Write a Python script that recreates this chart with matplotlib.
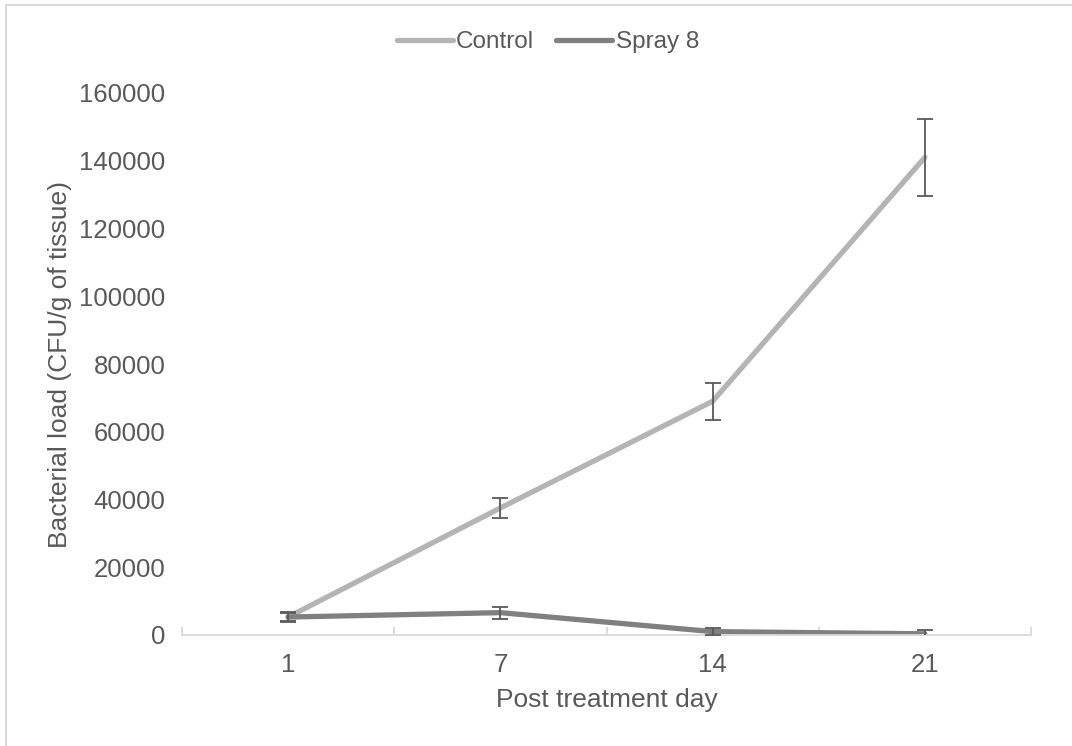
import matplotlib.pyplot as plt
import numpy as np
from matplotlib.lines import Line2D

plt.rcParams["font.family"] = ["Liberation Sans", "DejaVu Sans"]

days = ["1", "7", "14", "21"]
control = [5300, 37500, 69000, 141000]
control_err = [1500, 3000, 5500, 11300]
spray = [5300, 6600, 1000, 350]
spray_err = [1200, 1800, 1100, 1200]

TEXT = "#595959"
CONTROL_COLOR = "#B4B4B4"
SPRAY_COLOR = "#808080"
ERR_COLOR = "#595959"

fig = plt.figure(figsize=(10.72, 7.46), dpi=100)
ax = fig.add_axes([182 / 1072, 1 - 635 / 746, (1031 - 182) / 1072, (635 - 93) / 746])

# thin chart-area border (only top and left visible in the reference)
fig.add_artist(Line2D([6 / 1072, 6 / 1072], [0, 1 - 5 / 746], color="#D9D9D9", lw=1.5))
fig.add_artist(Line2D([6 / 1072, 1], [1 - 5 / 746, 1 - 5 / 746], color="#D9D9D9", lw=1.5))

x = np.arange(len(days))
ax.plot(x, control, color=CONTROL_COLOR, lw=3.8, solid_capstyle="round", label="Control", zorder=2)
ax.plot(x, spray, color=SPRAY_COLOR, lw=3.8, solid_capstyle="round", label="Spray 8", zorder=2)
ax.errorbar(x, control, yerr=control_err, fmt="none", ecolor=ERR_COLOR, elinewidth=1.3,
            capsize=6, capthick=1.3, zorder=3)
ax.errorbar(x, spray, yerr=spray_err, fmt="none", ecolor=ERR_COLOR, elinewidth=1.3,
            capsize=6, capthick=1.3, zorder=3)

ax.set_xlim(-0.5, len(days) - 0.5)
ax.set_ylim(0, 160000)
ax.set_yticks(np.arange(0, 160001, 20000))
ax.set_xticks(x)
ax.set_xticklabels(days)
ax.set_xticks(np.arange(-0.5, len(days), 1), minor=True)

for side in ["top", "right", "left"]:
    ax.spines[side].set_visible(False)
ax.spines["bottom"].set_color("#D9D9D9")
ax.spines["bottom"].set_linewidth(1.3)

ax.tick_params(axis="x", which="major", length=0, pad=13, labelsize=18.5, labelcolor=TEXT)
ax.tick_params(axis="x", which="minor", direction="in", length=6, width=1.3, color="#D9D9D9")
ax.tick_params(axis="y", length=0, pad=12, labelsize=18.5, labelcolor=TEXT)

ax.set_xlabel("Post treatment day", fontsize=19, color=TEXT, labelpad=8)
ax.set_ylabel("Bacterial load (CFU/g of tissue)", fontsize=19, color=TEXT, labelpad=5)

leg = fig.legend(loc="center", bbox_to_anchor=(0.511, 1 - 42 / 746), ncol=2, frameon=False,
                 fontsize=17.5, handlelength=2.3, handletextpad=0.15, columnspacing=0.9)
for text in leg.get_texts():
    text.set_color(TEXT)

fig.savefig("out.png", dpi=100)
